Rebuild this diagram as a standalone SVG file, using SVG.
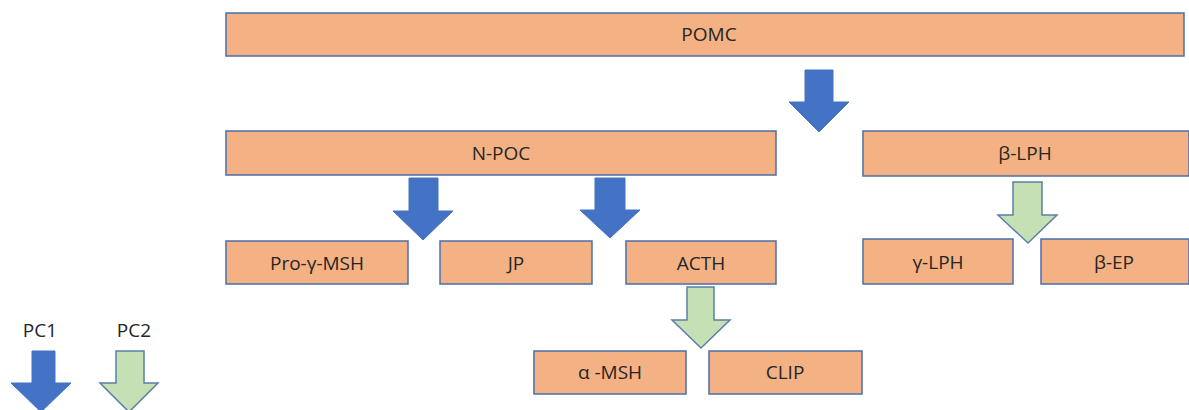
<svg xmlns="http://www.w3.org/2000/svg" width="1189" height="410" viewBox="0 0 1189 410">
  <style>
    .box { fill: #F4B183; stroke: #4A6FAE; stroke-width: 1.5; }
    .lbl { font-family: "Open Sans", "Noto Sans", "Liberation Sans", sans-serif; font-size: 19px; fill: #262626; text-anchor: middle; dominant-baseline: central; }
    .pc1 { fill: #4472C4; stroke: #4472C4; stroke-width: 1; }
    .pc2 { fill: #C5E0B4; stroke: #5B7FA8; stroke-width: 1.5; }
  </style>
  <rect width="1189" height="410" fill="#FFFFFF"/>

  <!-- precursor -->
  <g id="pomc">
    <rect class="box" x="226" y="13" width="958" height="43"/>
    <text class="lbl" x="709" y="34">POMC</text>
  </g>

  <!-- first cleavage products -->
  <g id="n-poc">
    <rect class="box" x="226" y="131" width="550" height="44"/>
    <text class="lbl" x="501" y="153">N-POC</text>
  </g>
  <g id="b-lph">
    <rect class="box" x="863" y="131" width="326" height="45"/>
    <text class="lbl" x="1025" y="153">β-LPH</text>
  </g>

  <!-- second cleavage products -->
  <g id="pro-g-msh">
    <rect class="box" x="226" y="241" width="182" height="43"/>
    <text class="lbl" x="317" y="263">Pro-γ-MSH</text>
  </g>
  <g id="jp">
    <rect class="box" x="440" y="241" width="152" height="43"/>
    <text class="lbl" x="516" y="263">JP</text>
  </g>
  <g id="acth">
    <rect class="box" x="626" y="241" width="150" height="43"/>
    <text class="lbl" x="701" y="263">ACTH</text>
  </g>
  <g id="g-lph">
    <rect class="box" x="863" y="239" width="150" height="45"/>
    <text class="lbl" x="938" y="262">γ-LPH</text>
  </g>
  <g id="b-ep">
    <rect class="box" x="1041" y="239" width="148" height="45"/>
    <text class="lbl" x="1114" y="262">β-EP</text>
  </g>

  <!-- ACTH products -->
  <g id="a-msh">
    <rect class="box" x="534" y="351" width="152" height="43"/>
    <text class="lbl" x="610" y="372">α -MSH</text>
  </g>
  <g id="clip">
    <rect class="box" x="709" y="351" width="153" height="43"/>
    <text class="lbl" x="785" y="372">CLIP</text>
  </g>

  <!-- block arrows: blue = PC1, green = PC2 -->
  <g id="connectors">
    <polygon class="pc1" points="805,70 833,70 833,102 849,102 819,132 789,102 805,102"/>
    <polygon class="pc1" points="409,178 438,178 438,211 453,211 423,240 393,211 409,211"/>
    <polygon class="pc1" points="595,178 625,178 625,210 640,210 610,238 580,210 595,210"/>
    <polygon class="pc2" points="1013,182 1042,182 1042,215 1057,215 1028,243 998,215 1013,215"/>
    <polygon class="pc2" points="687,287 714,287 714,320 730,320 701,348 672,320 687,320"/>
  </g>

  <!-- legend -->
  <g id="legend">
    <text class="lbl" x="40" y="330">PC1</text>
    <text class="lbl" x="134" y="330">PC2</text>
    <polygon class="pc1" points="32,351 55,351 55,383 71,383 41,412 11,383 32,383"/>
    <polygon class="pc2" points="116,351 144,351 144,383 158,383 129,412 100,383 116,383"/>
  </g>
</svg>
